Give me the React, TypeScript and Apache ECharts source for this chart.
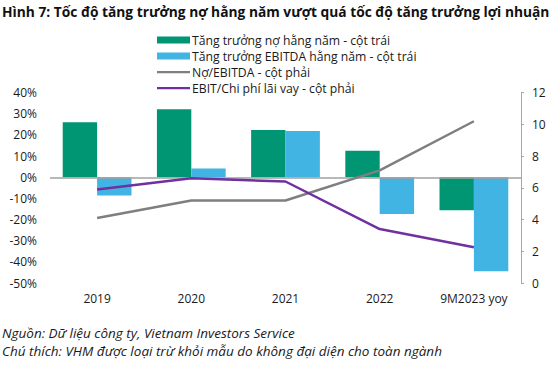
import React, { useEffect, useRef } from "react";
import * as echarts from "echarts";

const categories = ["2019", "2020", "2021", "2022", "9M2023 yoy"];
const debtGrowth = [26, 32.2, 22.4, 12.5, -15.6];
const ebitdaGrowth = [-8.6, 4.2, 21.9, -17.4, -44.5];
const debtToEbitda = [4.1, 5.2, 5.2, 7.1, 10.2];
const ebitToInterest = [5.9, 6.6, 6.4, 3.4, 2.25];

const seriesNames = [
  "Tăng trưởng nợ hằng năm - cột trái",
  "Tăng trưởng EBITDA hằng năm - cột trái",
  "Nợ/EBITDA - cột phải",
  "EBIT/Chi phí lãi vay - cột phải",
];

const titleText =
  "Hình 7: Tốc độ tăng trưởng nợ hằng năm vượt quá tốc độ tăng trưởng lợi nhuận";
const sourceText = "Nguồn: Dữ liệu công ty, Vietnam Investors Service";
const noteText =
  "Chú thích: VHM được loại trừ khỏi mẫu do không đại diện cho toàn ngành";

const FONT = "'Open Sans', 'Noto Sans', sans-serif";
const GREEN = "#009673";
const BLUE = "#41B4E4";
const GRAY = "#7F7F7F";
const PURPLE = "#7030A0";
const TEXT = "#1a1a1a";
const LINE_ICON =
  "path://M0,0h33v0.01h-33zM0,2.4h33v2.3h-33zM0,6.99h33v0.01h-33z";

export default function App() {
  const ref = useRef<HTMLDivElement>(null);
  useEffect(() => {
    if (!ref.current) return;
    const chart = echarts.init(ref.current, undefined, { renderer: "svg" });
    chart.setOption({
      animation: false,
      backgroundColor: "#ffffff",
      textStyle: { fontFamily: FONT },
      legend: {
        orient: "vertical",
        left: 157,
        top: 32,
        padding: 0,
        itemWidth: 33,
        itemHeight: 7,
        itemGap: 0,
        textStyle: {
          fontFamily: FONT,
          fontSize: 12.2,
          color: TEXT,
          lineHeight: 16,
          padding: [0, 0, 0, -3],
        },
        data: [
          { name: seriesNames[0], icon: "rect" },
          { name: seriesNames[1], icon: "rect" },
          { name: seriesNames[2], icon: LINE_ICON },
          { name: seriesNames[3], icon: LINE_ICON },
        ],
      },
      grid: { left: 50, right: 38, top: 92.7, bottom: 104 },
      xAxis: {
        type: "category",
        data: categories,
        axisLine: { show: false },
        axisTick: { show: false },
        axisLabel: {
          margin: 9,
          fontSize: 12,
          color: TEXT,
          fontFamily: FONT,
        },
      },
      yAxis: [
        {
          type: "value",
          min: -50,
          max: 40,
          interval: 10,
          axisLine: { show: false },
          axisTick: { show: false },
          splitLine: { show: false },
          axisLabel: {
            formatter: "{value}%",
            margin: 13,
            fontSize: 12,
            color: TEXT,
            fontFamily: FONT,
          },
        },
        {
          type: "value",
          position: "right",
          min: 0,
          max: 12,
          interval: 2,
          axisLine: { show: true, lineStyle: { color: "#A6A6A6", width: 1 } },
          axisTick: {
            show: true,
            length: 3,
            lineStyle: { color: "#A6A6A6" },
          },
          splitLine: { show: false },
          axisLabel: {
            margin: 11,
            fontSize: 12,
            color: TEXT,
            fontFamily: FONT,
          },
        },
      ],
      series: [
        {
          name: seriesNames[0],
          type: "bar",
          yAxisIndex: 0,
          data: debtGrowth,
          barGap: "0%",
          barCategoryGap: "27%",
          itemStyle: { color: GREEN },
          z: 2,
          markLine: {
            silent: true,
            symbol: "none",
            label: { show: false },
            lineStyle: { color: "#A0A0A0", width: 1.5, type: "solid" },
            data: [{ yAxis: 0 }],
          },
        },
        {
          name: seriesNames[1],
          type: "bar",
          yAxisIndex: 0,
          data: ebitdaGrowth,
          itemStyle: { color: BLUE },
          z: 2,
        },
        {
          name: seriesNames[2],
          type: "line",
          yAxisIndex: 1,
          data: debtToEbitda,
          symbol: "none",
          lineStyle: { color: GRAY, width: 2.5 },
          itemStyle: { color: GRAY },
          z: 5,
        },
        {
          name: seriesNames[3],
          type: "line",
          yAxisIndex: 1,
          data: ebitToInterest,
          symbol: "none",
          lineStyle: { color: PURPLE, width: 2.5 },
          itemStyle: { color: PURPLE },
          z: 6,
        },
      ],
      graphic: [
        {
          type: "text",
          x: 2,
          y: 4,
          scaleX: 0.985,
          style: {
            text: titleText,
            font: `bold 14px ${FONT}`,
            fill: "#111",
          },
        },
        {
          type: "text",
          x: 2,
          y: 326,
          style: {
            text: sourceText,
            font: `italic 13.5px ${FONT}`,
            fill: TEXT,
          },
        },
        {
          type: "text",
          x: 2,
          y: 344,
          style: {
            text: noteText,
            font: `italic 13.5px ${FONT}`,
            fill: TEXT,
          },
        },
      ],
    });
    return () => chart.dispose();
  }, []);
  return (
    <div
      ref={ref}
      style={{
        position: "fixed",
        left: 0,
        top: 0,
        width: 559,
        height: 387,
        background: "#fff",
      }}
    />
  );
}
